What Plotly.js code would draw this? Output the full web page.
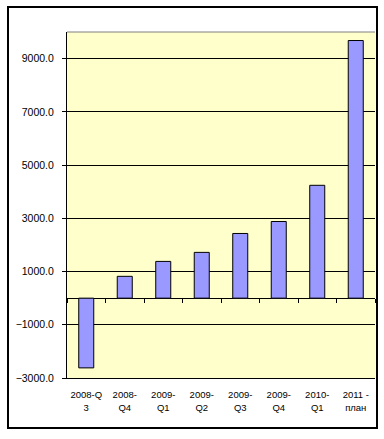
<!DOCTYPE html>
<html>
<head>
<meta charset="utf-8">
<script src="https://cdn.plot.ly/plotly-3.0.1.min.js"></script>
<style>
  html, body { margin: 0; padding: 0; background: #fff; }
  #wrap { position: relative; width: 384px; height: 439px; }
  #chart { position: absolute; left: 0; top: 0; width: 384px; height: 439px; }
  #frame { position: absolute; left: 7px; top: 6px; width: 371px; height: 423px;
           box-sizing: border-box; border: 2px solid #000; pointer-events: none; }
</style>
</head>
<body>
<div id="wrap">
  <div id="chart"></div>
  <div id="frame"></div>
</div>
<script>
const categories = ["2008-Q<br>3", "2008-<br>Q4", "2009-<br>Q1", "2009-<br>Q2",
                    "2009-<br>Q3", "2009-<br>Q4", "2010-<br>Q1", "2011 -<br>план"];
const values = [-2620, 820, 1380, 1720, 2430, 2880, 4240, 9680];
const yTick0 = -3000;
const yTickStep = 2000;
const yRange = [-3000, 10000];

const bars = {
  type: "bar",
  x: categories,
  y: values,
  marker: { color: "#9999FF", line: { color: "#000000", width: 1 } },
  hoverinfo: "x+y"
};
// helper (invisible) trace so the zero-line category axis gets its ticks
const helper = {
  type: "scatter",
  mode: "markers",
  x: categories,
  y: categories.map(() => 0),
  xaxis: "x2",
  yaxis: "y",
  marker: { opacity: 0 },
  hoverinfo: "skip",
  showlegend: false
};

const zeroPos = (0 - yRange[0]) / (yRange[1] - yRange[0]);

const layout = {
  width: 384,
  height: 439,
  margin: { l: 67, r: 9, t: 32, b: 61 },
  paper_bgcolor: "#ffffff",
  plot_bgcolor: "#FFFFCC",
  showlegend: false,
  bargap: 0.61,
  font: { family: "Liberation Sans, Arial, sans-serif", color: "#000", size: 10 },
  xaxis: {
    type: "category",
    showline: true,
    linecolor: "#000",
    linewidth: 1,
    ticks: "",
    showgrid: false,
    tickfont: { size: 9.5, family: "Liberation Sans, Arial, sans-serif", color: "#000" },
    ticklabelstandoff: 8
  },
  xaxis2: {
    type: "category",
    overlaying: "x",
    anchor: "free",
    position: zeroPos,
    side: "bottom",
    tickson: "boundaries",
    ticks: "outside",
    ticklen: 4,
    tickcolor: "#000",
    showticklabels: false,
    showgrid: false,
    showline: false,
    zeroline: false,
    range: [-0.5, categories.length - 0.5]
  },
  yaxis: {
    range: yRange,
    tickmode: "linear",
    tick0: yTick0,
    dtick: yTickStep,
    tickformat: ".1f",
    showline: true,
    linecolor: "#000",
    linewidth: 1,
    ticks: "outside",
    ticklen: 4,
    tickcolor: "#000",
    showgrid: true,
    gridcolor: "#000",
    gridwidth: 1,
    zeroline: true,
    zerolinecolor: "#000",
    zerolinewidth: 1,
    tickfont: { size: 10.5, family: "Liberation Sans, Arial, sans-serif", color: "#000" },
    ticklabelstandoff: 6
  },
  shapes: [
    { type: "line", xref: "paper", yref: "paper", x0: 0, x1: 1, y0: 1, y1: 1,
      line: { color: "#808080", width: 1 } }
  ]
};

Plotly.newPlot("chart", [bars, helper], layout, { displayModeBar: false, staticPlot: true });
</script>
</body>
</html>
